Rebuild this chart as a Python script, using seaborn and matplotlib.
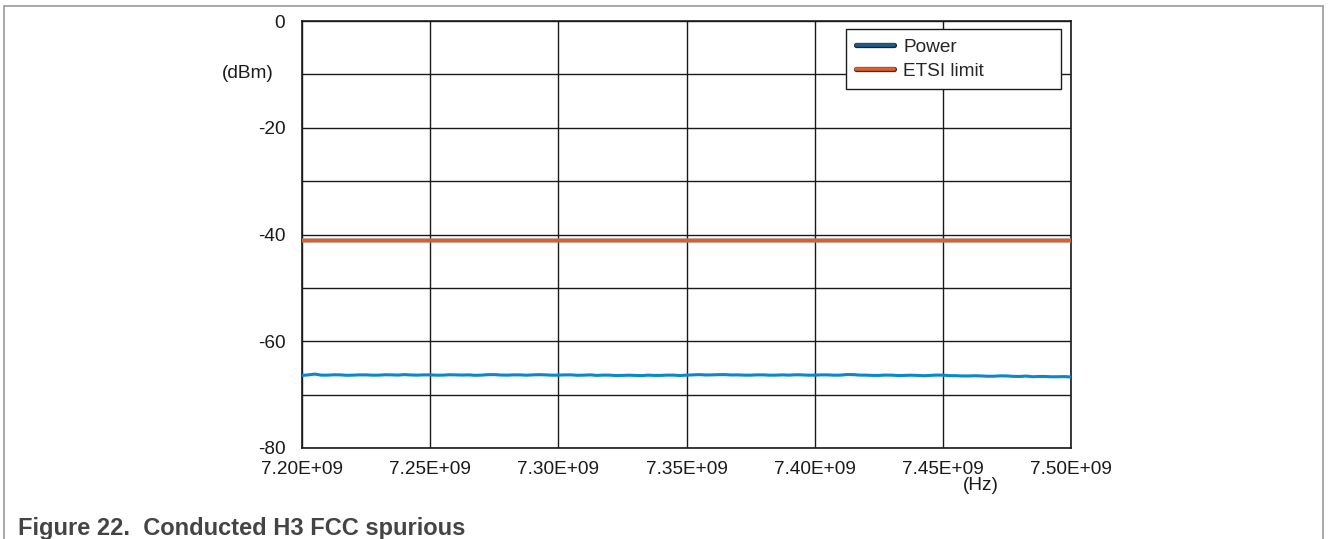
import numpy as np
import pandas as pd
import seaborn as sns
import matplotlib
matplotlib.use("Agg")
import matplotlib.pyplot as plt
from matplotlib.lines import Line2D
from matplotlib.ticker import FuncFormatter, MultipleLocator
import matplotlib.patheffects as pe

# Sweep start / step (GHz); 121 points from 7.20 GHz to 7.50 GHz
sweep_start_ghz = 7.20
sweep_step_ghz = 0.0025

# Measured conducted power (dBm), one value per sweep point
power_dbm = [
    -66.40, -66.30, -66.15, -66.35, -66.35, -66.28, -66.30, -66.38, -66.35, -66.30,
    -66.30, -66.36, -66.35, -66.28, -66.30, -66.34, -66.25, -66.32, -66.35, -66.30,
    -66.30, -66.36, -66.35, -66.28, -66.30, -66.34, -66.30, -66.38, -66.35, -66.26,
    -66.25, -66.33, -66.35, -66.30, -66.30, -66.36, -66.30, -66.26, -66.30, -66.36,
    -66.35, -66.30, -66.30, -66.38, -66.35, -66.30, -66.40, -66.34, -66.35, -66.42,
    -66.40, -66.36, -66.40, -66.44, -66.35, -66.40, -66.40, -66.34, -66.35, -66.42,
    -66.35, -66.30, -66.25, -66.32, -66.30, -66.26, -66.25, -66.32, -66.30, -66.35,
    -66.35, -66.30, -66.30, -66.36, -66.35, -66.30, -66.35, -66.28, -66.30, -66.36,
    -66.35, -66.30, -66.30, -66.36, -66.35, -66.24, -66.25, -66.34, -66.35, -66.40,
    -66.40, -66.34, -66.35, -66.42, -66.40, -66.36, -66.40, -66.46, -66.40, -66.34,
    -66.35, -66.44, -66.45, -66.50, -66.50, -66.46, -66.50, -66.56, -66.55, -66.48,
    -66.50, -66.58, -66.60, -66.52, -66.65, -66.60, -66.60, -66.66, -66.65, -66.62,
    -66.70,
]
# ETSI limit (dBm)
etsi_limit_dbm = -41.0

y_ticks = [0, -20, -40, -60, -80]
x_ticks_ghz = [7.20, 7.25, 7.30, 7.35, 7.40, 7.45, 7.50]

freq_hz = [(sweep_start_ghz + i * sweep_step_ghz) * 1e9 for i in range(len(power_dbm))]
df = pd.DataFrame({
    "freq": freq_hz * 2,
    "value": power_dbm + [etsi_limit_dbm] * len(freq_hz),
    "series": ["Power"] * len(freq_hz) + ["ETSI limit"] * len(freq_hz),
})

sns.set_theme(style="white")
plt.rcParams["font.family"] = ["Liberation Sans", "DejaVu Sans"]
plt.rcParams["axes.unicode_minus"] = False

BLUE = "#0a87cf"
ORANGE = "#e85a24"
INK = "#1a1a1a"
FS = 13.7

fig = plt.figure(figsize=(13.28, 5.39), dpi=100)
ax = fig.add_axes([302 / 1328, 1 - 448 / 539, (1071 - 302) / 1328, (448 - 21) / 539])

sns.lineplot(data=df[df.series == "Power"], x="freq", y="value", ax=ax,
             color=BLUE, linewidth=2.2, legend=False, zorder=3)
sns.lineplot(data=df[df.series == "ETSI limit"], x="freq", y="value", ax=ax,
             color=ORANGE, linewidth=2.4, legend=False, zorder=3,
             path_effects=[pe.Stroke(linewidth=3.6, foreground="#8a8a8a", alpha=0.6), pe.Normal()])

ax.set_xlim(7.2e9, 7.5e9)
ax.set_ylim(-80, 0)
ax.set_xticks([x * 1e9 for x in x_ticks_ghz])
ax.xaxis.set_major_formatter(FuncFormatter(lambda v, p: f"{v:.2E}"))
ax.set_yticks(y_ticks)
ax.yaxis.set_minor_locator(MultipleLocator(10))
ax.set_xlabel("")
ax.set_ylabel("")

ax.grid(True, which="both", axis="y", color=INK, linewidth=1.0)
ax.grid(True, which="major", axis="x", color=INK, linewidth=1.0)
ax.tick_params(axis="both", which="both", length=0, labelsize=FS, colors=INK)
ax.tick_params(axis="y", pad=12)
ax.tick_params(axis="x", pad=9)
for s in ax.spines.values():
    s.set_visible(True)
    s.set_color(INK)
    s.set_linewidth(1.2)
ax.set_axisbelow(True)

# Unit labels
fig.text(248 / 1328, 1 - 74 / 539, "(dBm)", ha="center", va="center", fontsize=FS, color=INK)
fig.text(981 / 1328, 1 - 486 / 539, "(Hz)", ha="center", va="center", fontsize=FS, color=INK)

# Legend
handles = [
    Line2D([], [], color="#1d5b88", linewidth=2.6,
           path_effects=[pe.Stroke(linewidth=3.8, foreground="#222222"), pe.Normal()]),
    Line2D([], [], color=ORANGE, linewidth=2.6,
           path_effects=[pe.Stroke(linewidth=3.8, foreground="#333333"), pe.Normal()]),
]
leg = fig.legend(handles, ["Power", "ETSI limit"], loc="upper left",
                 bbox_to_anchor=(846 / 1328, 1 - 29 / 539, (1061 - 846) / 1328, 0.0),
                 mode="expand", fontsize=FS, frameon=True, fancybox=False,
                 edgecolor=INK, framealpha=1.0, handlelength=2.0,
                 handletextpad=0.5, borderpad=0.5, labelspacing=0.35,
                 borderaxespad=0.0)
leg.get_frame().set_linewidth(1.0)

# Outer frame and caption
frame_kw = dict(transform=fig.transFigure, color="#9a9a9a", linewidth=1.2)
fig.add_artist(Line2D([4 / 1328, 4 / 1328], [0, 1 - 6 / 539], **frame_kw))
fig.add_artist(Line2D([4 / 1328, 1323 / 1328], [1 - 6 / 539, 1 - 6 / 539], **frame_kw))
fig.add_artist(Line2D([1323 / 1328, 1323 / 1328], [0, 1 - 6 / 539], **frame_kw))

fig.text(18 / 1328, 1 - 535 / 539, "Figure 22.  Conducted H3 FCC spurious",
         ha="left", va="baseline", fontsize=17, fontweight="bold", color="#444444")

fig.savefig("out.png", dpi=100)
